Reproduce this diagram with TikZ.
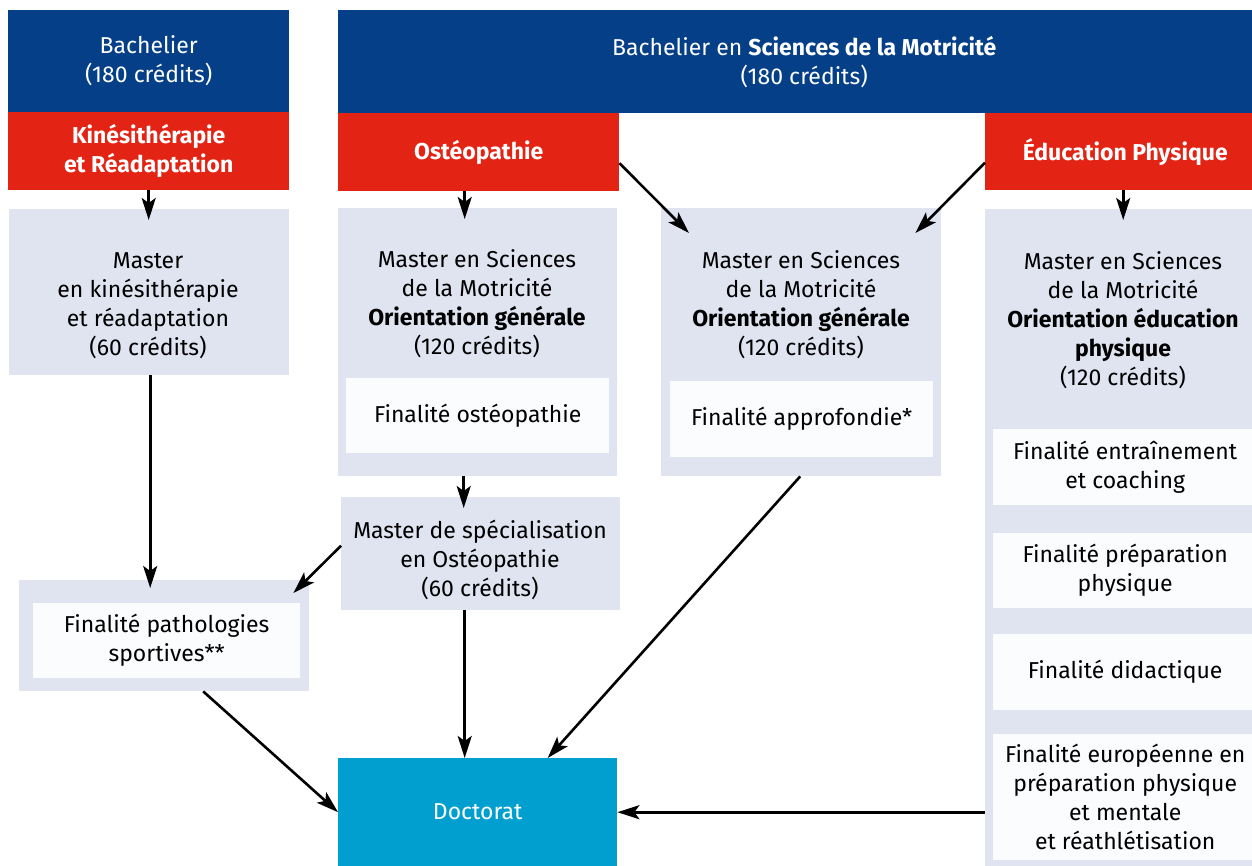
\documentclass[tikz,border=0pt]{standalone}
\usepackage{fontspec}
\setmainfont{Fira Sans}
\usetikzlibrary{positioning, arrows.meta}
\definecolor{uclblue}{RGB}{4,63,135}
\definecolor{uclred}{RGB}{227,35,20}
\definecolor{uclgray}{RGB}{223,228,240}
\definecolor{uclwhite}{RGB}{251,252,254}
\definecolor{uclcyan}{RGB}{0,159,208}
\tikzset{
x=1pt, y=-1pt, % one unit is one pixel, y runs downwards
>={Stealth[length=22pt,width=14pt,inset=5pt]}, % bold arrow heads
every node/.style={font=\fontsize{23}{29}\selectfont, align=center, inner sep=0pt},
box/.style 2 args={anchor=north west, minimum width=#1, minimum height=#2}, % width and height in pixels
blue/.style={fill=uclblue, text=white},
red/.style={fill=uclred, text=white, font=\fontsize{23}{29}\selectfont\bfseries},
gray/.style={fill=uclgray},
white/.style={fill=uclwhite},
arrow/.style={->, line width=2.6pt},
}
\begin{document}
\begin{tikzpicture}
\path[use as bounding box, clip] (0,0) rectangle (1252,866); % right column runs off the page
% top row
\node[box={281}{102}, blue] (bach) at (8,10) {Bachelier\\(180 crédits)};
\node[box={932}{103}, blue] (sdm) at (338,10) {Bachelier en \textbf{Sciences de la Motricité}\\(180 crédits)};
\node[box={281}{78}, red] (kine) at (8,112) {Kinésithérapie\\et Réadaptation};
\node[box={281}{78}, red] (ost) at (338,113) {Ostéopathie};
\node[box={280}{77}, red] (educ) at (985,113) {Éducation Physique};
% masters
\node[box={280}{166}, gray] (mkine) at (9,209) {};
\node (mkinetxt) at (148,306) {Master\\en kinésithérapie\\et réadaptation\\(60 crédits)};
\node[box={279}{268}, gray] (mgen) at (338,208) {};
\node (mgentxt) at (477,304) {Master en Sciences\\de la Motricité\\\textbf{Orientation générale}\\(120 crédits)};
\node[box={263}{75}, white] (fost) at (346,378) {Finalité ostéopathie};
\node[box={280}{268}, gray] (mmid) at (661,208) {};
\node (mmidtxt) at (801,305) {Master en Sciences\\de la Motricité\\\textbf{Orientation générale}\\(120 crédits)};
\node[box={263}{76}, white] (fappr) at (670,381) {Finalité approfondie*};
\node[box={280}{657}, gray] (meduc) at (985,209) {};
\node (meductxt) at (1123,320) {Master en Sciences\\de la Motricité\\\textbf{Orientation éducation}\\\textbf{physique}\\(120 crédits)};
\node[box={264}{76}, white] (fentr) at (993,429) {Finalité entraînement\\et coaching};
\node[box={264}{75}, white] (fprep) at (993,533) {Finalité préparation\\physique};
\node[box={264}{76}, white] (fdid) at (993,634) {Finalité didactique};
\node[box={264}{126}, white] (feuro) at (993,734) {Finalité européenne en\\préparation physique\\et mentale\\et réathlétisation};
% lower part
\node[box={279}{113}, gray] (mspec) at (341,497) {};
\node (mspectxt) at (480,560) {Master de spécialisation\\en Ostéopathie\\(60 crédits)};
\node[box={290}{111}, gray] (patho) at (19,580) {};
\node[box={267}{75}, white] (fpatho) at (33,603) {Finalité pathologies\\sportives**};
\node[box={279}{108}, fill=uclcyan, text=white] (doc) at (338,758) {Doctorat};
% connectors (the short ones run a little into the grey boxes)
\draw[arrow] (kine.south) -- ([yshift=-11pt]kine.south |- mkine.north);
\draw[arrow] ([xshift=-14pt]ost.south) -- ([xshift=-14pt,yshift=-11pt]ost.south |- mgen.north);
\draw[arrow] ([yshift=-11pt]ost.east) -- ([xshift=28pt,yshift=-25pt]mmid.north west);
\draw[arrow] ([yshift=-11pt]educ.west) -- ([xshift=-26pt,yshift=-25pt]mmid.north east);
\draw[arrow] ([xshift=-2pt]educ.south) -- ([xshift=-2pt,yshift=-11pt]educ.south |- meduc.north);
\draw[arrow] ([xshift=1pt]mkine.south) -- ([xshift=1pt,yshift=-8pt]mkine.south |- patho.north);
\draw[arrow] ([xshift=-14pt]mgen.south) -- ([xshift=-14pt,yshift=-11pt]mgen.south |- mspec.north);
\draw[arrow] ([yshift=8pt]mspec.west) -- ([xshift=-16pt,yshift=-13pt]patho.north east);
\draw[arrow] ([xshift=39pt]patho.south) -- (doc.west);
\draw[arrow] ([xshift=-16pt]mspec.south) -- ([xshift=-16pt]mspec.south |- doc.north);
\draw[arrow] ([xshift=-1pt]mmid.south) -- ([xshift=70pt]doc.north);
\draw[arrow] (meduc.west |- doc.east) -- (doc.east);
\end{tikzpicture}
\end{document}
